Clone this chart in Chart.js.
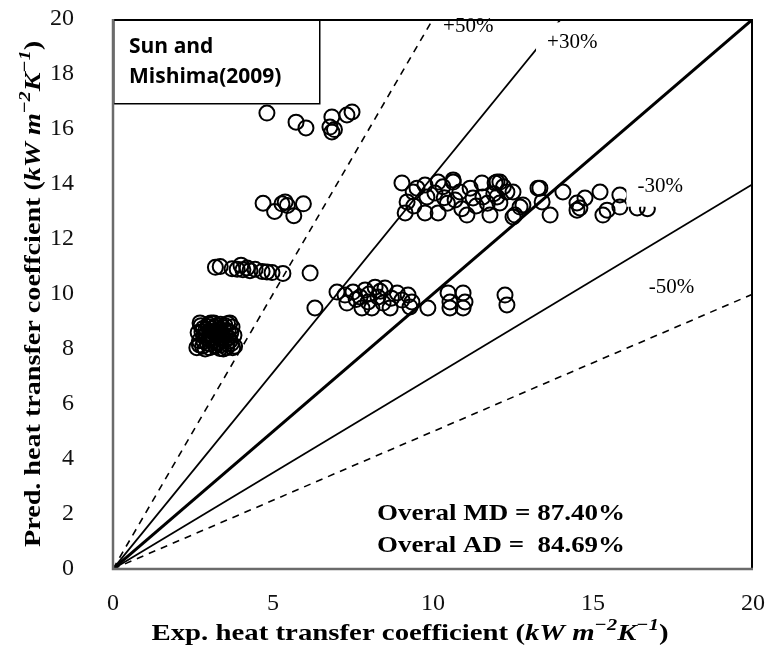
<!DOCTYPE html>
<html>
<head>
<meta charset="utf-8">
<script src="https://cdn.jsdelivr.net/npm/chart.js@4.4.1/dist/chart.umd.min.js"></script>
<style>
  html, body { margin: 0; padding: 0; background: #fff; }
  canvas { display: block; }
</style>
</head>
<body>
<canvas id="parity" width="769" height="659"></canvas>
<script>
// Measured vs. predicted heat transfer coefficient, kW m^-2 K^-1, as [exp, pred]
const groupHigh = [
    [4.81, 16.58], [5.72, 16.25], [6.03, 16.04], [6.84, 16.44], [6.78, 16.07],
    [6.84, 15.89], [6.92, 15.98], [7.31, 16.51], [7.47, 16.62]
];
const groupMid13 = [
    [4.69, 13.3], [5.05, 13.0], [5.28, 13.28], [5.38, 13.35], [5.45, 13.22],
    [5.65, 12.85], [5.95, 13.28]
];
const groupMid11 = [
    [3.2, 10.97], [3.35, 11.0], [3.72, 10.92], [3.88, 10.9], [4.0, 11.05],
    [4.06, 10.88], [4.19, 10.95], [4.28, 10.85], [4.44, 10.9], [4.66, 10.82],
    [4.81, 10.8], [4.97, 10.78], [5.31, 10.75], [6.16, 10.76]
];
const groupLow = [
    [2.62, 8.05], [2.7, 8.3], [2.66, 8.6], [2.75, 8.85], [2.8, 8.1], [2.85, 8.45],
    [2.9, 8.7], [2.95, 8.2], [2.98, 8.9], [3.02, 8.05], [3.05, 8.5], [3.1, 8.75],
    [3.12, 8.3], [3.18, 8.6], [3.2, 8.1], [3.25, 8.85], [3.3, 8.4], [3.35, 8.7],
    [3.38, 8.15], [3.42, 8.55], [3.48, 8.3], [3.5, 8.85], [3.55, 8.05], [3.6, 8.65],
    [3.62, 8.4], [3.7, 8.2], [3.72, 8.8], [3.78, 8.5], [3.8, 8.1], [2.72, 8.95],
    [3.0, 8.35], [3.15, 8.95], [3.45, 8.0], [2.88, 8.0], [3.28, 8.25], [3.65, 8.95],
    [2.78, 8.62], [2.84, 8.28], [2.92, 8.55], [2.96, 8.82], [3.04, 8.18], [3.08, 8.64],
    [3.14, 8.42], [3.16, 8.8], [3.22, 8.5], [3.24, 8.22], [3.32, 8.6], [3.34, 8.02],
    [3.4, 8.38], [3.44, 8.78], [3.52, 8.48], [3.56, 8.2], [3.58, 8.92], [3.66, 8.3],
    [3.68, 8.58], [3.74, 8.05], [2.7, 8.15], [2.82, 8.75], [3.06, 8.95], [3.36, 8.9]
];
const groupRight13 = [
    [9.03, 14.04], [9.13, 12.95], [9.19, 13.35], [9.38, 13.71], [9.5, 13.85],
    [9.75, 13.96], [9.81, 13.53], [9.75, 12.95], [10.06, 13.67], [10.16, 12.95],
    [10.16, 14.07], [10.31, 13.9], [10.45, 13.3], [10.63, 14.07], [10.69, 13.42],
    [10.84, 13.71], [10.63, 14.15], [11.06, 12.87], [11.16, 13.85], [11.25, 13.49],
    [11.35, 13.2], [11.53, 14.04], [11.56, 13.53], [11.7, 13.3], [11.78, 12.87],
    [11.94, 14.04], [12.0, 13.53], [12.09, 14.07], [12.09, 13.31], [12.0, 14.07],
    [12.2, 13.9], [12.31, 13.71], [12.5, 13.71], [12.56, 12.87], [12.5, 12.8],
    [12.72, 13.16], [12.81, 13.24], [13.28, 13.85], [13.34, 13.85], [13.41, 13.35],
    [13.66, 12.87], [14.06, 13.71], [14.5, 13.31], [14.5, 13.05], [14.59, 13.13],
    [14.75, 13.49], [15.22, 13.71], [15.31, 12.87], [15.44, 13.05], [15.84, 13.6],
    [15.84, 13.16], [16.38, 13.13], [16.7, 13.1], [9.4, 13.2], [10.9, 13.1],
    [11.9, 13.65], [10.35, 13.5]
];
const groupRight10 = [
    [6.31, 9.49], [7.0, 10.07], [7.25, 9.96], [7.31, 9.67], [7.5, 10.07],
    [7.72, 9.89], [7.78, 9.49], [7.88, 10.15], [7.97, 9.71], [8.09, 9.49],
    [8.19, 10.25], [8.28, 9.89], [8.44, 9.67], [8.5, 10.22], [8.66, 9.49],
    [8.88, 10.04], [9.03, 9.78], [9.22, 9.96], [9.28, 9.53], [9.34, 9.71],
    [9.84, 9.49], [10.47, 10.04], [10.53, 9.71], [10.53, 9.49], [10.94, 10.04],
    [11.0, 9.71], [10.94, 9.49], [12.25, 9.96], [12.31, 9.6], [7.6, 9.8],
    [8.0, 10.0], [8.35, 10.1], [8.7, 9.85]
];

// Deviation bands: pred = factor * exp
const bandFactors = [2, 1 / 0.7, 1, 0.7, 0.5];
const bandLabels = ['+50%', '+30%', '', '-30%', '-50%'];
const axisMax = 20;

const points = [].concat(groupHigh, groupMid13, groupMid11, groupLow, groupRight13, groupRight10)
    .map(p => ({ x: p[0], y: p[1] }));

const serif = "'Liberation Serif', 'Times New Roman', serif";

const bandDatasets = bandFactors.map((f, i) => {
    const xEnd = Math.min(axisMax, axisMax / f);
    const dashed = f === 2 || f === 0.5;
    return {
        type: 'line',
        label: bandLabels[i] || '1:1',
        data: [{ x: 0, y: 0 }, { x: xEnd, y: f * xEnd }],
        borderColor: '#000',
        borderWidth: f === 1 ? 3 : (dashed ? 1.6 : 1.8),
        borderDash: dashed ? [7, 6] : [],
        pointRadius: 0,
        fill: false,
        order: 2
    };
});

// label anchors in data units
const bandLabelPos = {
    '+50%': [11.1, 19.72],
    '+30%': [14.35, 19.15],
    '-30%': [17.1, 13.9],
    '-50%': [17.45, 10.25]
};

// draws a run of mixed-style text, squeezed or stretched to a given width
function drawRich(ctx, parts, x, y, size, width) {
    const fontOf = st => (st === 'b' ? 'bold ' : 'italic bold ') + (st === 'sup' ? Math.round(size * 0.72) : size) + 'px ' + serif;
    let total = 0;
    const widths = parts.map(p => {
        ctx.font = fontOf(p[1]);
        const w = ctx.measureText(p[0]).width;
        total += w;
        return w;
    });
    const k = width ? width / total : 1;
    ctx.save();
    ctx.translate(x - total * k / 2, y);
    ctx.scale(k, 1);
    ctx.textAlign = 'left';
    ctx.textBaseline = 'middle';
    let cx = 0;
    parts.forEach((p, i) => {
        ctx.font = fontOf(p[1]);
        ctx.fillText(p[0], cx, p[1] === 'sup' ? -size * 0.34 : 0);
        cx += widths[i];
    });
    ctx.restore();
}

function fillStretched(ctx, text, x, y, width) {
    const w = ctx.measureText(text).width;
    ctx.save();
    ctx.translate(x, y);
    ctx.scale(width / w, 1);
    ctx.fillText(text, 0, 0);
    ctx.restore();
}

const unitParts = [['kW m', 'bi'], ['\u22122', 'sup'], ['K', 'bi'], ['\u22121', 'sup'], [')', 'b']];

const decorPlugin = {
    id: 'decor',
    beforeDraw(chart) {
        const ctx = chart.ctx;
        ctx.save();
        ctx.fillStyle = '#fff';
        ctx.fillRect(0, 0, chart.width, chart.height);
        ctx.restore();
    },
    afterDatasetsDraw(chart) {
        const ctx = chart.ctx;
        const xs = chart.scales.x, ys = chart.scales.y;
        const area = chart.chartArea;
        ctx.save();

        // band labels on white boxes
        ctx.font = '21px ' + serif;
        ctx.textAlign = 'center';
        ctx.textBaseline = 'middle';
        Object.keys(bandLabelPos).forEach(txt => {
            const px = xs.getPixelForValue(bandLabelPos[txt][0]);
            const py = ys.getPixelForValue(bandLabelPos[txt][1]);
            const w = ctx.measureText(txt).width;
            ctx.fillStyle = '#fff';
            ctx.fillRect(px - w / 2 - 11, py - 20, w + 22, 40);
            ctx.fillStyle = '#000';
            ctx.fillText(txt, px, py);
        });

        // source box
        ctx.fillStyle = '#fff';
        ctx.fillRect(area.left, area.top, 207, 85);
        ctx.strokeStyle = '#000';
        ctx.lineWidth = 1.5;
        ctx.strokeRect(area.left + 0.75, area.top + 0.75, 206, 84);
        ctx.fillStyle = '#000';
        ctx.font = "bold 21px 'Open Sans', sans-serif";
        ctx.textAlign = 'left';
        ctx.fillText('Sun and', area.left + 16, area.top + 28);
        ctx.fillText('Mishima(2009)', area.left + 16, area.top + 58);

        // overall deviations
        ctx.font = 'bold 24px ' + serif;
        fillStretched(ctx, 'Overal MD = 87.40%', area.left + 264, 514, 248);
        fillStretched(ctx, 'Overal AD =  84.69%', area.left + 264, 546, 248);

        // frame
        ctx.lineWidth = 2;
        ctx.strokeStyle = '#000';
        ctx.beginPath();
        ctx.moveTo(area.left, area.top + 1);
        ctx.lineTo(area.right - 1, area.top + 1);
        ctx.lineTo(area.right - 1, area.bottom);
        ctx.stroke();
        ctx.strokeStyle = '#6b6b6b';
        ctx.lineWidth = 2.5;
        ctx.beginPath();
        ctx.moveTo(area.left, area.top);
        ctx.lineTo(area.left, area.bottom);
        ctx.lineTo(area.right, area.bottom);
        ctx.stroke();
        ctx.restore();
    },
    afterDraw(chart) {
        const ctx = chart.ctx;
        ctx.save();
        ctx.fillStyle = '#000';
        drawRich(ctx, [['Exp. heat transfer coefficient (', 'b']].concat(unitParts), 410, 634, 24, 517);
        ctx.translate(34, 294);
        ctx.rotate(-Math.PI / 2);
        drawRich(ctx, [['Pred. heat transfer coeffcient (', 'b']].concat(unitParts), 0, 0, 24, 506);
        ctx.restore();
    }
};

// keep the plot box fixed regardless of tick label overhang
function noOverhang(scale) {
    scale.paddingTop = 0;
    scale.paddingBottom = 0;
    scale.paddingLeft = 0;
    scale.paddingRight = 0;
}

new Chart(document.getElementById('parity'), {
    type: 'scatter',
    data: {
        datasets: [{
            label: 'Sun and Mishima(2009)',
            data: points,
            pointStyle: 'circle',
            pointRadius: 7.5,
            pointBorderWidth: 2,
            borderColor: '#000',
            backgroundColor: 'rgba(0,0,0,0)',
            order: 1
        }].concat(bandDatasets)
    },
    options: {
        responsive: false,
        animation: false,
        layout: { padding: { left: 0, right: 16, top: 19, bottom: 0 } },
        plugins: {
            legend: { display: false },
            tooltip: { enabled: false }
        },
        scales: {
            x: {
                type: 'linear',
                min: 0,
                max: axisMax,
                grid: { display: false },
                border: { display: false },
                ticks: { stepSize: 5, padding: 12, color: '#111', font: { family: serif, size: 24 } },
                afterFit(scale) { scale.height = 90; noOverhang(scale); }
            },
            y: {
                type: 'linear',
                min: 0,
                max: axisMax,
                grid: { display: false },
                border: { display: false },
                ticks: { stepSize: 2, padding: 31, color: '#111', font: { family: serif, size: 24 } },
                afterFit(scale) { scale.width = 113; noOverhang(scale); }
            }
        }
    },
    plugins: [decorPlugin]
});
</script>
</body>
</html>
